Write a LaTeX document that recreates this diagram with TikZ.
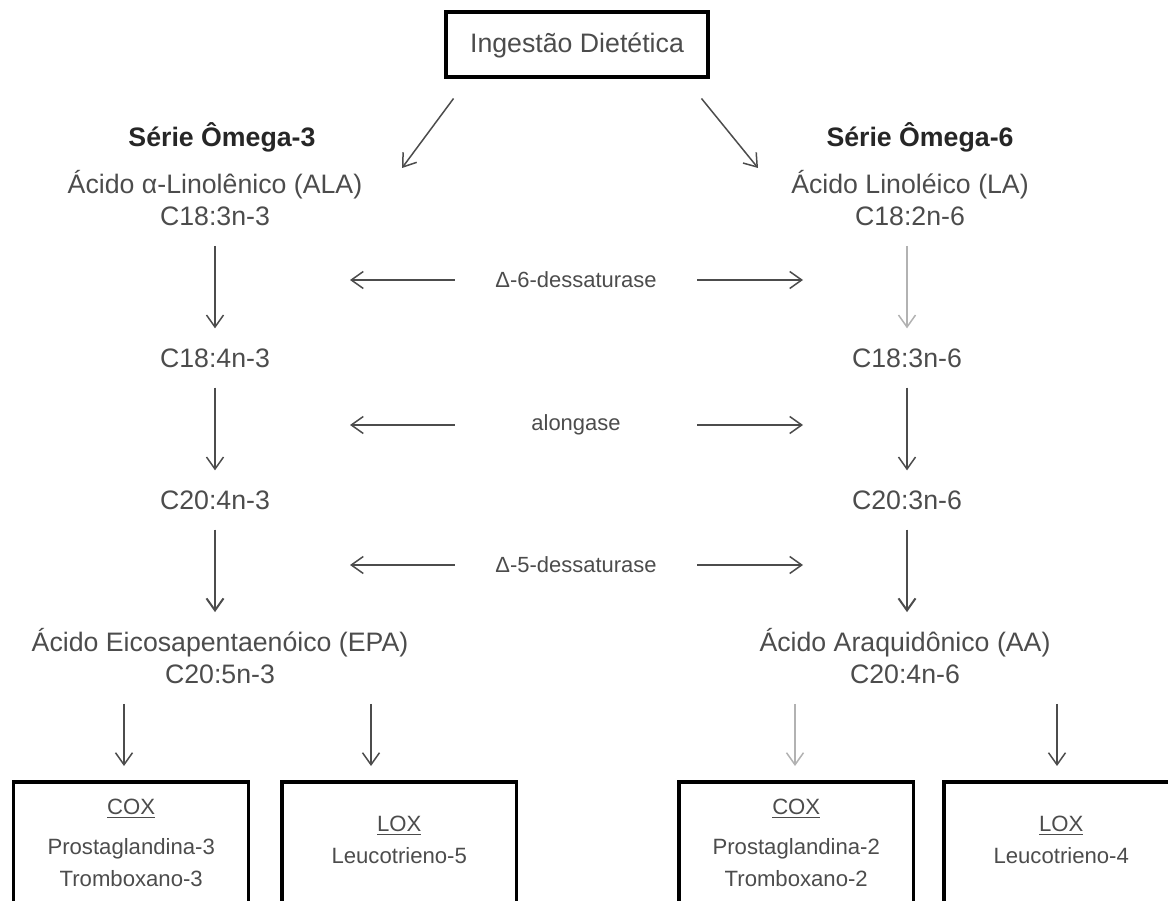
\documentclass[tikz,border=0pt]{standalone}
\usepackage{fontspec}
\setmainfont{Liberation Sans}
\usetikzlibrary{arrows.meta,positioning}
\definecolor{inkgray}{gray}{0.3}

\begin{document}
\begin{tikzpicture}[x=0.02cm, y=-0.02cm,
    every node/.style={text=inkgray},
    acid/.style={align=center, font=\fontsize{15.2}{18.2}\selectfont},
    serie/.style={font=\fontsize{15.2}{18.2}\selectfont\bfseries, text=black!85},
    enz/.style={font=\fontsize{12.5}{15}\selectfont, minimum width=4.84cm, inner xsep=0pt},
    topbox/.style={draw=black, line width=0.08cm, minimum width=5.26cm, minimum height=1.3cm,
        font=\fontsize{15.2}{18.2}\selectfont},
    outbox/.style={draw=black, line width=0.07cm, anchor=north west, minimum width=4.7cm,
        text width=4.4cm, align=center, inner ysep=0.34cm, text depth=3cm,
        font=\fontsize{12.6}{18.2}\selectfont},
    arr/.style={-{Straight Barb[length=0.24cm,width=0.34cm]}, draw=inkgray, line width=0.03cm},
    down/.style={arr, shorten <=0.28cm, shorten >=0.28cm}]

    \useasboundingbox (0,0) rectangle (1168,901);
    \clip (0,0) rectangle (1168,901);

    \node[topbox] (ingest) at (577,45) {Ingestão Dietética};

    \node[serie] (om3) at (222,137) {Série Ômega-3};
    \node[serie] (om6) at (920,137) {Série Ômega-6};

    %% omega-3 column
    \node[acid] (ala) at (215,198) {Ácido α-Linolênico (ALA)\\C18:3n-3};
    \node[acid] (c184) at (215,358) {C18:4n-3};
    \node[acid] (c204) at (215,500) {C20:4n-3};
    \node[acid] (epa) at (220,656) {Ácido Eicosapentaenóico (EPA)\\C20:5n-3};

    %% omega-6 column
    \node[acid] (la) at (910,198) {Ácido Linoléico (LA)\\C18:2n-6};
    \node[acid] (c183) at (907,358) {C18:3n-6};
    \node[acid] (c203) at (907,500) {C20:3n-6};
    \node[acid] (aa) at (905,656) {Ácido Araquidônico (AA)\\C20:4n-6};

    \coordinate (dl) at (402,168);
    \coordinate (dr) at (758,168);
    \draw[arr] ([shift={(10,19)}]ingest.south west) -- (dl);
    \draw[arr] ([shift={(-9,19)}]ingest.south east) -- (dr);

    \draw[down] (ala.south -| c184) -- (c184);
    \draw[down] (c184) -- (c204);
    \draw[down, line width=0.04cm, shorten >=0.2cm] (c204) -- (c204 |- epa.north);
    \draw[down, draw=black!30] (la.south -| c183) -- (c183);
    \draw[down] (c183) -- (c203);
    \draw[down, line width=0.04cm, shorten >=0.2cm] (c203) -- (c203 |- aa.north);

    %% enzymes in between
    \foreach \y/\name/\txt in {280/d6/Δ-6-dessaturase, 425/elo/alongase, 565/d5/Δ-5-dessaturase} {
        \node[enz] (\name) at (576,\y) {\txt};
        \coordinate (\name l) at (350,\y);
        \coordinate (\name r) at (803,\y);
        \draw[arr] (\name) -- (\name l);
        \draw[arr] (\name) -- (\name r);
    }

    %% eicosanoids
    \node[outbox] (cox3) at (12,780) {\underline{COX}\\[0.16cm]Prostaglandina-3\\Tromboxano-3};
    \node[outbox, inner ysep=0.68cm] (lox5) at (280,780) {\underline{LOX}\\Leucotrieno-5};
    \node[outbox] (cox2) at (677,780) {\underline{COX}\\[0.16cm]Prostaglandina-2\\Tromboxano-2};
    \node[outbox, inner ysep=0.68cm] (lox4) at (942,780) {\underline{LOX}\\Leucotrieno-4};

    \coordinate (t1) at (124,762);
    \coordinate (t2) at (371,762);
    \coordinate (t3) at (795,762);
    \coordinate (t4) at (1057,762);
    \draw[down] (epa.south -| t1) -- (cox3.north -| t1);
    \draw[down] (epa.south -| t2) -- (lox5.north -| t2);
    \draw[down, draw=black!30] (aa.south -| t3) -- (cox2.north -| t3);
    \draw[down] (aa.south -| t4) -- (lox4.north -| t4);
\end{tikzpicture}
\end{document}
